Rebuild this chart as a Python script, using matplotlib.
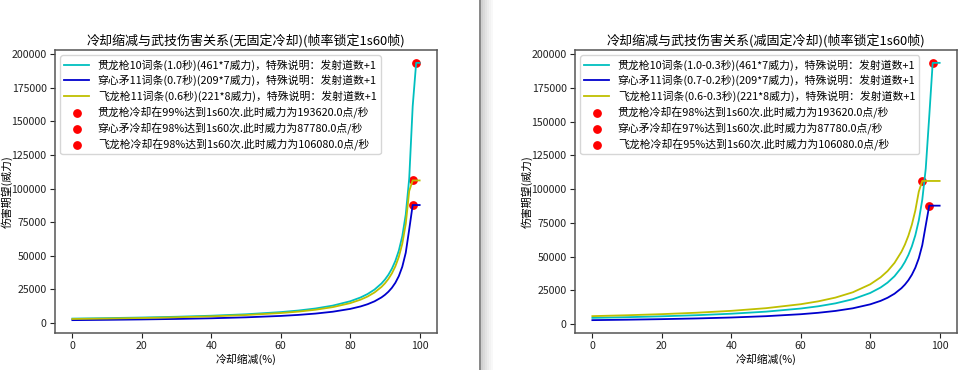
import matplotlib
matplotlib.use("Agg")
import matplotlib.pyplot as plt
from matplotlib.patches import Rectangle

plt.rcParams['font.family'] = ['Noto Sans CJK SC', 'DejaVu Sans']
plt.rcParams['axes.unicode_minus'] = False

# cooldown reduction (%)
cdr = [0, 10, 20, 30, 40, 50, 60, 65, 70, 75, 80, 83, 85, 87, 89,
       90, 91, 92, 93, 94, 95, 96, 97, 98, 99, 100]

# left: no fixed cooldown
guanlong_1 = [3227, 3586, 4034, 4610, 5378, 6454, 8068, 9220, 10757, 12908, 16135, 18982, 21513, 24823, 29336,
              32270, 35856, 40338, 46100, 53783, 64540, 80675, 107567, 161350, 193620, 193620]
chuanxin_1 = [2090, 2322, 2613, 2986, 3483, 4180, 5225, 5971, 6967, 8360, 10450, 12294, 13933, 16077, 19000,
              20900, 23222, 26125, 29857, 34833, 41800, 52250, 69667, 87780, 87780, 87780]
feilong_1 = [2947, 3274, 3683, 4210, 4911, 5893, 7367, 8419, 9822, 11787, 14733, 17333, 19644, 22667, 26788,
             29467, 32741, 36833, 42095, 49111, 58933, 73667, 98222, 106080, 106080, 106080]
cap_x_1 = [99, 98, 98]
cap_y_1 = [193620, 87780, 106080]

# right: fixed cooldown removed
guanlong_2 = [4610, 5122, 5763, 6586, 7683, 9220, 11525, 13171, 15367, 18440, 23050, 27118, 30733, 35462, 41909,
              46100, 51222, 57625, 65857, 76833, 92200, 115250, 153667, 193620, 193620, 193620]
chuanxin_2 = [2926, 3251, 3658, 4180, 4877, 5852, 7315, 8360, 9753, 11704, 14630, 17212, 19507, 22508, 26600,
              29260, 32511, 36575, 41800, 48767, 58520, 73150, 87780, 87780, 87780, 87780]
feilong_2 = [5893, 6548, 7367, 8419, 9822, 11787, 14733, 16838, 19644, 23573, 29467, 34667, 39289, 45333, 53576,
             58933, 65481, 73667, 84190, 98222, 106080, 106080, 106080, 106080, 106080, 106080]
cap_x_2 = [98, 97, 95]
cap_y_2 = [193620, 87780, 106080]

line_labels_1 = ['贯龙枪10词条(1.0秒)(461*7威力)，特殊说明：发射道数+1',
                 '穿心矛11词条(0.7秒)(209*7威力)，特殊说明：发射道数+1',
                 '飞龙枪11词条(0.6秒)(221*8威力)，特殊说明：发射道数+1']
dot_labels_1 = ['贯龙枪冷却在99%达到1s60次.此时威力为193620.0点/秒',
                '穿心矛冷却在98%达到1s60次.此时威力为87780.0点/秒',
                '飞龙枪冷却在98%达到1s60次.此时威力为106080.0点/秒']
line_labels_2 = ['贯龙枪10词条(1.0-0.3秒)(461*7威力)，特殊说明：发射道数+1',
                 '穿心矛11词条(0.7-0.2秒)(209*7威力)，特殊说明：发射道数+1',
                 '飞龙枪11词条(0.6-0.3秒)(221*8威力)，特殊说明：发射道数+1']
dot_labels_2 = ['贯龙枪冷却在98%达到1s60次.此时威力为193620.0点/秒',
                '穿心矛冷却在97%达到1s60次.此时威力为87780.0点/秒',
                '飞龙枪冷却在95%达到1s60次.此时威力为106080.0点/秒']
title_1 = '冷却缩减与武技伤害关系(无固定冷却)(帧率锁定1s60帧)'
title_2 = '冷却缩减与武技伤害关系(减固定冷却)(帧率锁定1s60帧)'

fig = plt.figure(figsize=(9.63, 3.70), dpi=100)
fig.patch.set_facecolor('white')

# window divider of the screenshot
fig.add_artist(Rectangle((479 / 963, 0), 2 / 963, 1, transform=fig.transFigure,
                         color='#8a8a8a', lw=0))
for i, g in enumerate(['#d0d0d0', '#dadada', '#e3e3e3', '#ebebeb', '#f2f2f2', '#f8f8f8']):
    fig.add_artist(Rectangle(((481 + i * 2) / 963, 0), 2 / 963, 1, transform=fig.transFigure,
                             color=g, lw=0))


def draw(ax, series, cap_x, cap_y, line_labels, dot_labels, title):
    colors = ['c', 'mediumblue', 'y']
    for ys, col, lab in zip(series, colors, line_labels):
        ax.plot(cdr, ys, color=col, lw=1.3, label=lab)
    for x, y, lab in zip(cap_x, cap_y, dot_labels):
        ax.scatter([x], [y], color='red', s=28, label=lab)
    ax.set_title(title, fontsize=9.4, pad=4)
    ax.set_xlabel('冷却缩减(%)', fontsize=7.8, labelpad=2)
    ax.set_ylabel('伤害期望(威力)', fontsize=7.8)
    ax.yaxis.set_label_coords(-0.11, 0.5)
    ax.tick_params(labelsize=7.6, length=3.5, width=0.8, pad=2.5, colors='#222222')
    ax.set_xticks([0, 20, 40, 60, 80, 100])
    ax.set_yticks([0, 25000, 50000, 75000, 100000, 125000, 150000, 175000, 200000])
    for s in ax.spines.values():
        s.set_color('#555555')
        s.set_linewidth(1.1)
    ax.legend(loc='upper left', fontsize=7.8, labelspacing=0.38, handlelength=2.3,
              borderpad=0.35, framealpha=0.8)


ax1 = fig.add_axes([55 / 963, 37 / 370, 382 / 963, 283 / 370])
draw(ax1, [guanlong_1, chuanxin_1, feilong_1], cap_x_1, cap_y_1, line_labels_1, dot_labels_1, title_1)

ax2 = fig.add_axes([575 / 963, 37 / 370, 382 / 963, 283 / 370])
draw(ax2, [guanlong_2, chuanxin_2, feilong_2], cap_x_2, cap_y_2, line_labels_2, dot_labels_2, title_2)

fig.savefig('out.png', dpi=100)
